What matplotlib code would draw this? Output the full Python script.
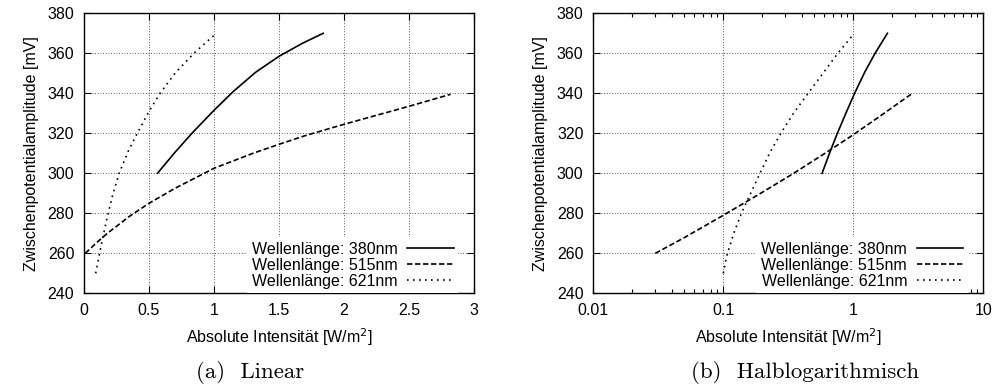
import numpy as np
import matplotlib
matplotlib.use("Agg")
import matplotlib.pyplot as plt
from matplotlib.ticker import FixedLocator, FuncFormatter, LogLocator, NullFormatter

# values (they were drawn from slightly different fits)
labels = ["Wellenlänge: 380nm", "Wellenlänge: 515nm", "Wellenlänge: 621nm"]

# (a) linear panel
lin_380_x = [0.565, 0.7, 0.83, 1.0, 1.15, 1.32, 1.5, 1.68, 1.84]
lin_380_y = [300, 310.5, 320, 331.5, 341, 350.5, 358.5, 365, 370]
lin_515_x = [0.01, 0.1, 0.18, 0.35, 0.5, 0.7, 1.0, 1.3, 1.5, 1.7, 2.0, 2.5, 2.82]
lin_515_y = [260, 265.5, 270, 278.5, 285, 292.5, 302.5, 310, 314.5, 318.8, 324.5, 333.5, 339.5]
lin_621_x = [0.09, 0.12, 0.14, 0.175, 0.22, 0.27, 0.34, 0.41, 0.5, 0.585, 0.7, 0.845, 1.0]
lin_621_y = [250, 260, 266.5, 277, 289, 300, 311, 320, 331, 340, 350, 360, 369]

# (b) semi-log panel
log_380_x = [0.575, 0.665, 0.752, 0.883, 1.02, 1.223, 1.47, 1.83]
log_380_y = [300, 311, 319.8, 330.5, 339.8, 350.5, 360, 370]
log_515_x = [0.03, 0.05, 0.1, 0.196, 0.344, 0.665, 1.0, 1.6, 2.85]
log_515_y = [260, 267.8, 279, 290.2, 299.8, 311.7, 319.3, 328.5, 340]
log_621_x = [0.1, 0.106, 0.121, 0.14, 0.165, 0.19, 0.229, 0.277, 0.355, 0.455, 0.6, 0.76, 0.99]
log_621_y = [250, 258.5, 270.5, 281, 291, 299.5, 310.5, 320, 331, 340.5, 351, 360, 369]

lin_ticks = [0, 0.5, 1, 1.5, 2, 2.5, 3]
log_ticks = [0.01, 0.1, 1, 10]
y_ticks = [240, 260, 280, 300, 320, 340, 360, 380]

styles = ["-", (0, (3.2, 1.6)), (0, (1, 2.6))]
sans = "Liberation Sans"
fs = 11.5

plt.close("all")
fig = plt.figure(figsize=(9.97, 3.89), dpi=100)
ax1 = fig.add_axes([84 / 997, 1 - 293.3 / 389, 390 / 997, 280 / 389])
ax2 = fig.add_axes([593.3 / 997, 1 - 293.3 / 389, 390 / 997, 280 / 389])

series = [
	(ax1, [(lin_380_x, lin_380_y), (lin_515_x, lin_515_y), (lin_621_x, lin_621_y)]),
	(ax2, [(log_380_x, log_380_y), (log_515_x, log_515_y), (log_621_x, log_621_y)]),
]

for ax, data in series:
	for (x, y), ls, lab in zip(data, styles, labels):
		ax.plot(x, y, color="black", linestyle=ls, linewidth=1.2, label=lab,
			solid_joinstyle="round")
	ax.set_ylim(240, 380)
	ax.yaxis.set_major_locator(FixedLocator(y_ticks))
	ax.grid(True, which="major", color="0.1", linestyle=(0, (1, 2.2)), linewidth=0.6)
	ax.tick_params(which="both", direction="in", top=True, right=True, width=0.8)
	ax.tick_params(which="major", length=5, pad=7, labelsize=fs)
	ax.tick_params(which="minor", length=2.8)
	for sp in ax.spines.values():
		sp.set_linewidth(1.0)
	ax.set_ylabel("Zwischenpotentialamplitude [mV]", fontsize=fs, family=sans, labelpad=6)
	ax.set_xlabel("Absolute Intensität [W/m$^2$]", fontsize=fs, family=sans, labelpad=6)
	leg = ax.legend(loc="lower right", bbox_to_anchor=(0.96, 0.0), borderaxespad=0,
		markerfirst=False, frameon=True, fancybox=False, edgecolor="none",
		facecolor="white", framealpha=1, handlelength=2.9, handletextpad=0.6,
		labelspacing=0.05, borderpad=0.3, prop={"family": sans, "size": fs})
	for t in leg.get_texts():
		t.set_ha("right")

ax1.set_xlim(0, 3)
ax1.xaxis.set_major_locator(FixedLocator(lin_ticks))
ax1.xaxis.set_major_formatter(FuncFormatter(lambda v, p: "%g" % v))

ax2.set_xscale("log")
ax2.set_xlim(0.01, 10)
ax2.xaxis.set_major_locator(FixedLocator(log_ticks))
ax2.xaxis.set_major_formatter(FuncFormatter(lambda v, p: "%g" % v))
ax2.xaxis.set_minor_locator(LogLocator(base=10, subs=np.arange(2, 10)))
ax2.xaxis.set_minor_formatter(NullFormatter())

for ax in (ax1, ax2):
	for lbl in ax.get_xticklabels() + ax.get_yticklabels():
		lbl.set_family(sans)

fig.text(250 / 997, 1 - 373 / 389, "(a)  Linear", family="cmr10", fontsize=16.5,
	ha="center", va="center")
fig.text(805 / 997, 1 - 373 / 389, "(b)  Halblogarithmisch", family="cmr10", fontsize=16.5,
	ha="center", va="center")

fig.savefig("out.png", dpi=100)
